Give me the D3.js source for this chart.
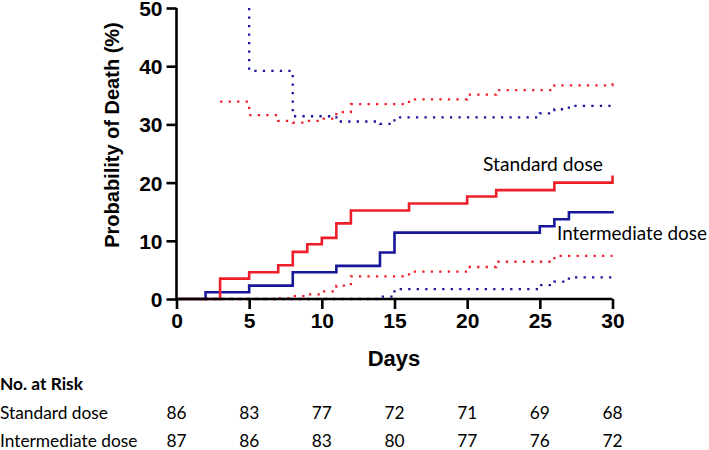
<!DOCTYPE html>
<html><head><meta charset="utf-8">
<script src="https://cdn.jsdelivr.net/npm/d3@7"></script>
<style>body{margin:0;background:#fff}svg{display:block}</style>
</head><body>
<svg id="c" width="709" height="450"></svg>
<script>
// ---- data ----
const xTicks = [0, 5, 10, 15, 20, 25, 30];
const yTicks = [0, 10, 20, 30, 40, 50];
const seriesNames = ["Standard dose", "Intermediate dose"];

const stdDays = [0, 3, 5, 7, 8, 9, 10, 11, 12, 16, 20, 22, 26, 30];
const stdProb = [0, 3.5, 4.6, 5.8, 8.1, 9.4, 10.5, 13.0, 15.2, 16.4, 17.6, 18.7, 20.0, 21.0];

const intDays = [0, 2, 5, 8, 11, 14, 15, 25, 26, 27, 30];
const intProb = [0, 1.15, 2.3, 4.6, 5.7, 8.0, 11.4, 12.5, 13.7, 14.9, 14.9];

const stdLoDays = [3, 7, 8, 9, 10, 11, 12, 16, 20, 22, 26, 30];
const stdLoProb = [0, 0.15, 0.5, 0.8, 1.3, 2.3, 3.9, 4.7, 5.5, 6.4, 7.4, 7.4];
const stdHiDays = [3, 5, 7, 8, 9, 10, 11, 12, 16, 20, 22, 26, 30];
const stdHiProb = [33.9, 31.6, 30.6, 30.3, 30.6, 31.0, 32.1, 33.5, 34.3, 35.1, 35.9, 36.7, 37.1];

const intLoDays = [2, 14, 15, 25, 26, 27, 30];
const intLoProb = [0, 0.4, 1.7, 2.4, 3.0, 3.7, 3.7];
const intHiDays = [5, 5, 8, 11, 14, 15, 25, 26, 27, 30];
const intHiProb = [50, 39.2, 31.4, 30.5, 30.1, 31.2, 31.9, 32.6, 33.2, 33.2];

const riskStd = [86, 83, 77, 72, 71, 69, 68];
const riskInt = [87, 86, 83, 80, 77, 76, 72];

// ---- chart ----
const RED = "#ee1f2b", BLUE = "#17179a";
const svg = d3.select("#c");
const x = d3.scaleLinear().domain([0, 30]).range([176.5, 612.5]);
const y = d3.scaleLinear().domain([0, 50]).range([299, 8]);

const zip = (a, b) => a.map((d, i) => [d, b[i]]);
const line = d3.line().x(d => x(d[0])).y(d => y(d[1])).curve(d3.curveStepAfter);

function draw(days, vals, color, dotted) {
  const p = svg.append("path").attr("d", line(zip(days, vals)))
    .attr("fill", "none").attr("stroke", color);
  if (dotted) p.attr("stroke-width", 2.3).attr("stroke-dasharray", "2.3 6.2");
  else p.attr("stroke-width", 2.6).attr("stroke-linejoin", "miter").attr("stroke-linecap", "square");
}
draw(stdLoDays, stdLoProb, RED, true);
draw(intLoDays, intLoProb, BLUE, true);
draw(stdHiDays, stdHiProb, RED, true);
draw(intHiDays, intHiProb, BLUE, true);
draw(intDays, intProb, BLUE, false);
draw(stdDays, stdProb, RED, false);

// axes
const tickFont = "'Liberation Sans', Arial, sans-serif";
const gx = svg.append("g").attr("transform", `translate(0,${y(0)})`)
  .call(d3.axisBottom(x).tickValues(xTicks).tickSize(10).tickPadding(4).tickFormat(d3.format("d")));
const gy = svg.append("g").attr("transform", `translate(${x(0)},0)`)
  .call(d3.axisLeft(y).tickValues(yTicks).tickSize(10).tickPadding(4).tickFormat(d3.format("d")));
[gx, gy].forEach(g => {
  g.select(".domain").attr("stroke", "#000").attr("stroke-width", 2.6);
  g.selectAll(".tick line").attr("stroke", "#000").attr("stroke-width", 2.6);
  g.selectAll(".tick text").attr("font-family", tickFont).attr("font-weight", "bold")
    .attr("font-size", 21).attr("fill", "#000");
});
gx.select(".domain").attr("d", `M${x(0)},0H${x(30)}`);
gy.select(".domain").attr("d", `M0,${y(0)}V${y(50)}`);
gy.selectAll(".tick text").attr("dy", "0.36em");

svg.append("text").attr("x", 394).attr("y", 366).attr("text-anchor", "middle")
  .attr("font-family", tickFont).attr("font-weight", "bold").attr("font-size", 22).text("Days");
svg.append("text").attr("transform", `translate(119,135) rotate(-90)`).attr("text-anchor", "middle")
  .attr("font-family", tickFont).attr("font-weight", "bold").attr("font-size", 20)
  .text("Probability of Death (%)");

// Calibri-like text fitted to measured widths
const tFont = "Lato, 'Open Sans', sans-serif";
function fitText(txt, xPos, yPos, width, bold, anchor) {
  const t = svg.append("text").attr("x", xPos).attr("y", yPos)
    .attr("font-family", tFont).attr("font-size", 20).attr("font-weight", bold ? "bold" : "normal")
    .attr("text-anchor", anchor || "start").attr("fill", "#000").text(txt);
  const w = t.node().getComputedTextLength();
  t.attr("font-size", (20 * width / w).toFixed(2));
  return t;
}
fitText(seriesNames[0], 483, 171, 120, false);
fitText(seriesNames[1], 557, 240, 150, false);

fitText("No. at Risk", 0, 390, 83, true);
const rowS = fitText(seriesNames[0], 0, 419, 108, false);
const tableSize = rowS.attr("font-size");
svg.append("text").attr("x", 0).attr("y", 447).attr("font-family", tFont)
  .attr("font-size", tableSize).text(seriesNames[1]);
[[riskStd, 419], [riskInt, 447]].forEach(([arr, yy]) => {
  svg.append("g").selectAll("text").data(arr).join("text")
    .attr("x", (d, i) => x(xTicks[i])).attr("y", yy).attr("text-anchor", "middle")
    .attr("font-family", tFont).attr("font-size", tableSize).text(d => d);
});
</script>
</body></html>
